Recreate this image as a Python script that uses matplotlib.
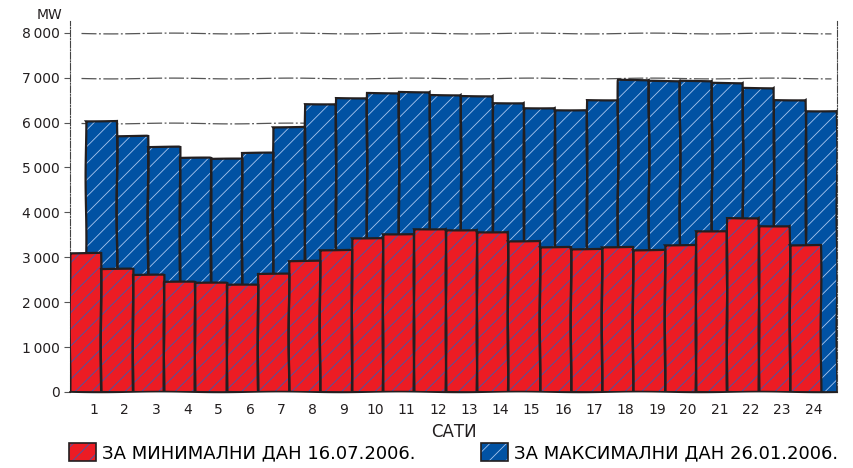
import matplotlib
matplotlib.use("Agg")
import matplotlib.pyplot as plt
from matplotlib.patches import Patch
from matplotlib.ticker import FuncFormatter
import numpy as np

hours = list(range(1, 25))
min_day = [3105, 2740, 2600, 2460, 2435, 2390, 2635, 2925, 3170, 3440, 3510, 3635,
           3600, 3560, 3360, 3230, 3190, 3230, 3170, 3280, 3585, 3880, 3695, 3265]
max_day = [6030, 5710, 5450, 5215, 5180, 5325, 5890, 6415, 6540, 6650, 6680, 6620,
           6600, 6430, 6320, 6280, 6510, 6955, 6920, 6935, 6875, 6765, 6505, 6265]
y_ticks = [0, 1000, 2000, 3000, 4000, 5000, 6000, 7000, 8000]
min_label = "ЗА МИНИМАЛНИ ДАН 16.07.2006."
max_label = "ЗА МАКСИМАЛНИ ДАН 26.01.2006."

RED = "#ec1c24"
BLUE = "#0152a3"
INK = "#231f20"
SKETCH = (0.4, 120, 1)

plt.rcParams["font.family"] = ["DejaVu Sans"]
plt.rcParams["hatch.linewidth"] = 0.6


def thousands(x, pos):
    if x == 0:
        return "0"
    return f"{int(x):,}".replace(",", "\u2009")


def sketchy(artists):
    for a in artists:
        a.set_sketch_params(*SKETCH)


fig = plt.figure(figsize=(8.54, 4.68), dpi=100)
ax = fig.add_axes([0.082, 0.1624, 0.898, 0.7917])

x = np.array(hours, dtype=float)

# blue bars (max day) sit half a bar to the right, behind the red ones
ax.bar(x, max_day, width=1.0, color=BLUE, edgecolor="#a9c6ee",
       linewidth=0, hatch="//", zorder=2)
outline = ax.bar(x, max_day, width=1.0, fill=False, edgecolor=INK,
                 linewidth=1.6, zorder=2.1)
sketchy(outline)

ax.bar(x - 0.5, min_day, width=1.0, color=RED, edgecolor="#3a5bb0",
       linewidth=0, hatch="//", zorder=3)
outline = ax.bar(x - 0.5, min_day, width=1.0, fill=False, edgecolor=INK,
                 linewidth=1.6, zorder=3.1)
sketchy(outline)

ax.set_xlim(0, 24.5)
ax.set_ylim(0, 8250)

for v in [6000, 7000, 8000]:
    sketchy(ax.plot([0.35, 24.3], [v, v], color="#555555", linewidth=0.9,
                    linestyle=(0, (12, 2, 1.5, 2)), zorder=1))

ax.set_yticks(y_ticks)
ax.yaxis.set_major_formatter(FuncFormatter(thousands))
ax.set_xticks(x - 0.25)
ax.set_xticklabels([str(h) for h in hours])
ax.tick_params(axis="x", length=0, pad=8, labelsize=10, colors=INK)
ax.tick_params(axis="y", length=4, width=0.8, colors="#555555", labelsize=10,
               labelcolor=INK)

for side in ["top", "bottom"]:
    ax.spines[side].set_visible(False)
for side in ["left", "right"]:
    ax.spines[side].set_linestyle((0, (6, 1.5, 1, 1.5)))
    ax.spines[side].set_color("#444444")

sketchy(ax.plot([0, 24.5], [0, 0], color=INK, linewidth=1.2, zorder=4,
                clip_on=False))

fig.text(0.073, 0.968, "MW", ha="right", va="center", fontsize=10, color=INK)
ax.set_xlabel("САТИ", fontsize=12, color=INK, labelpad=4)

h_min = (Patch(facecolor=RED, edgecolor="#3a5bb0", hatch="//", linewidth=0),
         Patch(fill=False, edgecolor=INK, linewidth=1.2))
h_max = (Patch(facecolor=BLUE, edgecolor="#a9c6ee", hatch="//", linewidth=0),
         Patch(fill=False, edgecolor=INK, linewidth=1.2))
fig.legend([h_min, h_max], [min_label, max_label], loc="lower center",
           bbox_to_anchor=(0.531, -0.022), ncol=2, frameon=False, fontsize=13,
           handlelength=1.5, handleheight=1.1, handletextpad=0.35,
           columnspacing=3.6)

fig.savefig("out.png", dpi=100)
